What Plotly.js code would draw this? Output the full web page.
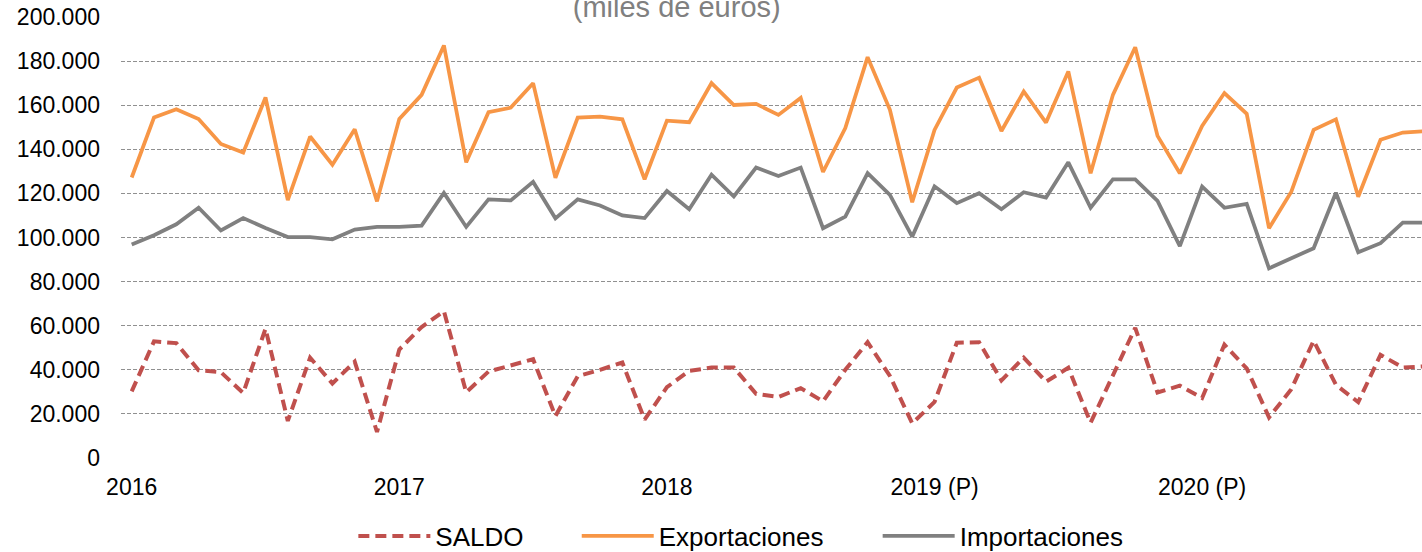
<!DOCTYPE html>
<html>
<head>
<meta charset="utf-8">
<script src="https://cdn.plot.ly/plotly-3.0.1.min.js"></script>
<style>
html,body{margin:0;padding:0;background:#fff;}
#chart{width:1422px;height:552px;}
</style>
</head>
<body>
<div id="chart"></div>
<script>
// Months (Jan 2016 - Nov 2020)
const months = [
  "2016-01","2016-02","2016-03","2016-04","2016-05","2016-06","2016-07","2016-08","2016-09","2016-10","2016-11","2016-12",
  "2017-01","2017-02","2017-03","2017-04","2017-05","2017-06","2017-07","2017-08","2017-09","2017-10","2017-11","2017-12",
  "2018-01","2018-02","2018-03","2018-04","2018-05","2018-06","2018-07","2018-08","2018-09","2018-10","2018-11","2018-12",
  "2019-01","2019-02","2019-03","2019-04","2019-05","2019-06","2019-07","2019-08","2019-09","2019-10","2019-11","2019-12",
  "2020-01","2020-02","2020-03","2020-04","2020-05","2020-06","2020-07","2020-08","2020-09","2020-10","2020-11"
];

// Values in miles de euros
const saldo = [
  30200, 52900, 52100, 39800, 38900, 29500, 58600, 16800, 45500, 33800, 43700, 11800,
  49200, 59400, 66600, 29800, 39200, 42200, 44800, 19000, 37100, 40000, 43300, 17400,
  32100, 39500, 41000, 41000, 29100, 27700, 31700, 25700, 40000, 52500, 37200, 15700,
  25400, 52300, 52500, 35200, 45500, 34600, 40900, 16000, 37800, 59000, 29700, 32800,
  27200, 51400, 40600, 18400, 31200, 53200, 33200, 25300, 46800, 41000, 41600
];
const exportaciones = [
  127200, 154400, 158200, 153700, 142400, 138500, 163500, 117000, 145800, 133000, 149100, 116400,
  153800, 164700, 187100, 134100, 156800, 158900, 170000, 127100, 154400, 154800, 153600, 126400,
  153000, 152300, 170000, 160100, 160600, 155600, 163300, 129700, 149600, 181800, 157900, 116000,
  148800, 168000, 172500, 148300, 166200, 152100, 175300, 129100, 164700, 186300, 146100, 129100,
  150600, 165500, 156100, 104200, 120800, 148800, 153600, 118500, 144300, 147600, 148200
];
const importaciones = [
  96800, 101000, 106000, 113500, 103200, 108800, 104300, 100200, 100200, 99200, 103600, 104800,
  104800, 105400, 120200, 104800, 117300, 116800, 125200, 108700, 117300, 114500, 110000, 108800,
  121100, 112800, 128500, 118600, 131700, 127900, 131700, 104200, 109500, 129200, 119300, 100400,
  123200, 115600, 120100, 112800, 120500, 118100, 134100, 113500, 126400, 126400, 116600, 96100,
  123100, 113500, 115200, 86000, 90600, 95100, 120300, 93300, 97400, 106700, 106700
];

// Axis tick labels
const xTickVals = ["2016-01","2017-01","2018-01","2019-01","2020-01"];
const xTickText = ["2016","2017","2018","2019 (P)","2020 (P)"];
const yTickVals = [0,20000,40000,60000,80000,100000,120000,140000,160000,180000,200000];

const FONT = '"Liberation Sans", Arial, sans-serif';

const traces = [
  {
    x: months, y: saldo, name: 'SALDO', type: 'scatter', mode: 'lines',
    line: {color: '#C0504D', width: 4, dash: '11px,6px'},
    legend: 'legend'
  },
  {
    x: months, y: exportaciones, name: 'Exportaciones', type: 'scatter', mode: 'lines',
    line: {color: '#F79646', width: 3.75},
    legend: 'legend2'
  },
  {
    x: months, y: importaciones, name: 'Importaciones', type: 'scatter', mode: 'lines',
    line: {color: '#808080', width: 3.75},
    legend: 'legend3'
  }
];

const legendBase = {
  orientation: 'h', yref: 'paper', y: -0.1769, yanchor: 'middle', xanchor: 'left',
  font: {family: FONT, size: 26, color: '#000'}, itemwidth: 72,
  bgcolor: 'rgba(0,0,0,0)', borderwidth: 0, tracegroupgap: 0
};

const layout = {
  width: 1422, height: 552,
  margin: {l: 121, r: 0, t: 17, b: 94, autoexpand: false},
  paper_bgcolor: '#fff', plot_bgcolor: '#fff',
  separators: ',.',
  font: {family: FONT, color: '#000'},
  title: {
    text: '(miles de euros)',
    font: {family: FONT, size: 29, color: '#808080'},
    x: 0.4759, xref: 'container', xanchor: 'center',
    y: 0.9885, yref: 'container', yanchor: 'middle'
  },
  xaxis: {
    type: 'category',
    range: [-0.48, 57.86],
    tickmode: 'array', tickvals: xTickVals, ticktext: xTickText,
    showgrid: false, zeroline: false, showline: false, ticks: '',
    tickfont: {family: FONT, size: 23, color: '#000'},
    ticklabelstandoff: 13
  },
  yaxis: {
    range: [0, 200000],
    tickmode: 'array', tickvals: yTickVals, tickformat: ',d',
    showgrid: true, gridcolor: '#909090', gridwidth: 1, griddash: '4px,2px',
    zeroline: false, showline: false, ticks: '',
    tickfont: {family: FONT, size: 23, color: '#000'},
    ticklabelstandoff: 20
  },
  showlegend: true,
  legend: Object.assign({}, legendBase, {x: 0.1786}),
  legend2: Object.assign({}, legendBase, {x: 0.3503}),
  legend3: Object.assign({}, legendBase, {x: 0.5816})
};

Plotly.newPlot('chart', traces, layout, {displayModeBar: false, staticPlot: true});
</script>
</body>
</html>
